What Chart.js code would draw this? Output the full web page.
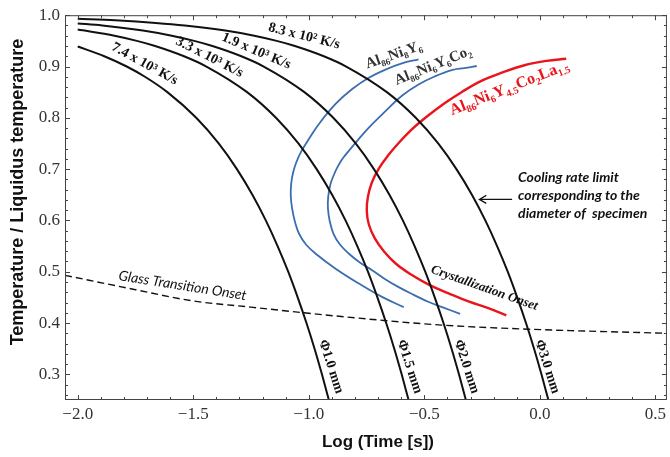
<!DOCTYPE html>
<html><head><meta charset="utf-8">
<script src="https://cdn.jsdelivr.net/npm/chart.js@4.4.0/dist/chart.umd.min.js"></script>
<style>html,body{margin:0;padding:0;background:#fff;}</style>
</head><body>
<canvas id="c" width="670" height="457"></canvas>
<script>
// ---- tick labels ----
const xTicks = [-2.0, -1.5, -1.0, -0.5, 0.0, 0.5];
const yTicks = [0.3, 0.4, 0.5, 0.6, 0.7, 0.8, 0.9, 1.0];

// ---- cooling curves (black) ----
const cr74x = [-2.0, -1.885, -1.788, -1.709, -1.612, -1.487, -1.390, -1.311, -1.244, -1.186, -1.135, -1.089, -1.048, -1.010, -0.975, -0.943, -0.913];
const cr74y = [0.939, 0.92, 0.90, 0.88, 0.85, 0.80, 0.75, 0.70, 0.65, 0.60, 0.55, 0.50, 0.45, 0.40, 0.35, 0.30, 0.25];
const cr33x = [-2.0, -1.841, -1.744, -1.665, -1.540, -1.443, -1.267, -1.142, -1.045, -0.966, -0.899, -0.841, -0.790, -0.744, -0.703, -0.665, -0.630, -0.598, -0.568];
const cr33y = [0.972, 0.96, 0.95, 0.94, 0.92, 0.90, 0.85, 0.80, 0.75, 0.70, 0.65, 0.60, 0.55, 0.50, 0.45, 0.40, 0.35, 0.30, 0.25];
const cr19x = [-2.0, -1.894, -1.718, -1.593, -1.496, -1.417, -1.292, -1.195, -1.019, -0.894, -0.797, -0.718, -0.651, -0.593, -0.542, -0.496, -0.455, -0.417, -0.382, -0.350, -0.320];
const cr19y = [0.984, 0.98, 0.97, 0.96, 0.95, 0.94, 0.92, 0.90, 0.85, 0.80, 0.75, 0.70, 0.65, 0.60, 0.55, 0.50, 0.45, 0.40, 0.35, 0.30, 0.25];
const cr83x = [-2.0, -1.838, -1.662, -1.537, -1.361, -1.236, -1.139, -1.060, -0.935, -0.838, -0.662, -0.537, -0.440, -0.361, -0.294, -0.236, -0.185, -0.139, -0.098, -0.060, -0.025, 0.007, 0.037];
const cr83y = [0.993, 0.99, 0.985, 0.98, 0.97, 0.96, 0.95, 0.94, 0.92, 0.90, 0.85, 0.80, 0.75, 0.70, 0.65, 0.60, 0.55, 0.50, 0.45, 0.40, 0.35, 0.30, 0.25];

// ---- glass transition onset (dashed) ----
const glassX = [-2.055, -1.75, -1.5, -1.25, -1.0, -0.675, -0.425, -0.05, 0.55];
const glassY = [0.493, 0.465, 0.443, 0.431, 0.419, 0.405, 0.396, 0.388, 0.380];

// ---- crystallization onset curves ----
const ni8X = [-0.589, -0.683, -0.783, -0.884, -0.970, -1.012, -1.042, -1.059, -1.072, -1.078, -1.076, -1.068, -1.055, -1.033, -0.999, -0.956, -0.884, -0.812, -0.740, -0.668, -0.597, -0.525];
const ni8Y = [0.431, 0.451, 0.477, 0.506, 0.535, 0.553, 0.574, 0.596, 0.623, 0.648, 0.672, 0.693, 0.712, 0.734, 0.759, 0.788, 0.827, 0.856, 0.878, 0.894, 0.906, 0.914];
const co2X = [-0.345, -0.417, -0.481, -0.546, -0.611, -0.671, -0.726, -0.779, -0.826, -0.865, -0.893, -0.909, -0.917, -0.916, -0.906, -0.891, -0.877, -0.854, -0.826, -0.783, -0.740, -0.668, -0.597, -0.525, -0.453, -0.381, -0.326, -0.273];
const co2Y = [0.418, 0.430, 0.441, 0.455, 0.470, 0.486, 0.503, 0.518, 0.535, 0.553, 0.574, 0.598, 0.623, 0.646, 0.671, 0.689, 0.703, 0.720, 0.736, 0.759, 0.781, 0.813, 0.843, 0.865, 0.881, 0.893, 0.897, 0.901];
const laX = [-0.145, -0.223, -0.309, -0.395, -0.481, -0.559, -0.624, -0.675, -0.714, -0.740, -0.749, -0.744, -0.727, -0.697, -0.658, -0.611, -0.555, -0.490, -0.417, -0.339, -0.253, -0.158, -0.063, 0.028, 0.114];
const laY = [0.415, 0.429, 0.442, 0.458, 0.475, 0.495, 0.516, 0.540, 0.565, 0.592, 0.619, 0.646, 0.674, 0.701, 0.726, 0.751, 0.777, 0.802, 0.827, 0.850, 0.872, 0.889, 0.903, 0.911, 0.915];

const pts = (xs, ys) => xs.map((x, i) => ({x: x, y: ys[i]}));
const BLACK = '#111111', BLUE = '#3b6eaf', RED = '#e8161c';

function lineDs(xs, ys, color, w, extra) {
  return Object.assign({data: pts(xs, ys), showLine: true, borderColor: color, borderWidth: w,
    pointRadius: 0, fill: false, tension: 0.4}, extra || {});
}

const datasets = [
  lineDs(cr74x, cr74y, BLACK, 2, {cubicInterpolationMode: 'monotone'}),
  lineDs(cr33x, cr33y, BLACK, 2, {cubicInterpolationMode: 'monotone'}),
  lineDs(cr19x, cr19y, BLACK, 2, {cubicInterpolationMode: 'monotone'}),
  lineDs(cr83x, cr83y, BLACK, 2, {cubicInterpolationMode: 'monotone'}),
  lineDs(glassX, glassY, BLACK, 1.4, {borderDash: [7, 4], cubicInterpolationMode: 'monotone'}),
  lineDs(ni8X, ni8Y, BLUE, 1.8),
  lineDs(co2X, co2Y, BLUE, 1.8),
  lineDs(laX, laY, RED, 2.4)
];

const fmt = v => (Math.abs(v) < 1e-9 ? '0.0' : v.toFixed(1).replace('-', '\u2212'));

function rich(ctx, segs, cx, cy, ang, size, color, family, style) {
  ctx.save();
  ctx.translate(cx, cy);
  ctx.rotate(ang * Math.PI / 180);
  const f = (sub) => `${style} ${sub ? Math.round(size * 0.62) : size}px ${family}`;
  let w = 0;
  segs.forEach(([t, s]) => { ctx.font = f(s); w += ctx.measureText(t).width; });
  let x = -w / 2;
  ctx.fillStyle = color; ctx.textBaseline = 'middle'; ctx.textAlign = 'left';
  segs.forEach(([t, s]) => { ctx.font = f(s); ctx.fillText(t, x, s ? size * 0.32 : 0); x += ctx.measureText(t).width; });
  ctx.restore();
}
function txt(ctx, t, cx, cy, ang, font, color, align) {
  ctx.save();
  ctx.translate(cx, cy);
  ctx.rotate(ang * Math.PI / 180);
  ctx.font = font; ctx.fillStyle = color; ctx.textAlign = align || 'center'; ctx.textBaseline = 'middle';
  ctx.fillText(t, 0, 0);
  ctx.restore();
}

const deco = {
  id: 'deco',
  afterDraw(chart) {
    const ctx = chart.ctx, a = chart.chartArea, xs = chart.scales.x, ys = chart.scales.y;
    const P = (x, y) => [xs.getPixelForValue(x), ys.getPixelForValue(y)];
    // frame
    ctx.save();
    ctx.strokeStyle = '#444'; ctx.lineWidth = 1;
    ctx.strokeRect(a.left + 0.5, a.top + 0.5, a.right - a.left - 1, a.bottom - a.top - 1);
    // ticks
    ctx.beginPath();
    for (let i = -20; i <= 5; i++) {
      const v = i / 10, px = Math.round(xs.getPixelForValue(v)) + 0.5;
      const L = (i % 5 === 0) ? 5 : 3;
      ctx.moveTo(px, a.bottom); ctx.lineTo(px, a.bottom - L);
      ctx.moveTo(px, a.top); ctx.lineTo(px, a.top + L);
    }
    for (let i = 13; i <= 50; i++) {
      const v = i / 50, py = Math.round(ys.getPixelForValue(v)) + 0.5;
      const L = (i % 5 === 0) ? 5 : 3;
      ctx.moveTo(a.left, py); ctx.lineTo(a.left + L, py);
      ctx.moveTo(a.right, py); ctx.lineTo(a.right - L, py);
    }
    ctx.stroke();
    ctx.restore();

    const serifB = 'Liberation Serif';
    // cooling rate labels
    let p;
    p = P(-1.020, 0.959); rich(ctx, [['8.3 x 10\u00b2 K/s', 0]], p[0], p[1], 14, 14, '#111', serifB, 'bold');
    p = P(-1.227, 0.930); rich(ctx, [['1.9 x 10\u00b3 K/s', 0]], p[0], p[1], 23, 14, '#111', serifB, 'bold');
    p = P(-1.430, 0.918); rich(ctx, [['3.3 x 10\u00b3 K/s', 0]], p[0], p[1], 27, 14, '#111', serifB, 'bold');
    p = P(-1.710, 0.905); rich(ctx, [['7.4 x 10\u00b3 K/s', 0]], p[0], p[1], 29, 14, '#111', serifB, 'bold');
    // alloy labels
    p = P(-0.632, 0.922); rich(ctx, [['Al', 0], ['86', 1], ['Ni', 0], ['8', 1], ['Y', 0], ['6', 1]], p[0], p[1], -19, 15, '#333', serifB, 'bold');
    p = P(-0.462, 0.901); rich(ctx, [['Al', 0], ['86', 1], ['Ni', 0], ['6', 1], ['Y', 0], ['6', 1], ['Co', 0], ['2', 1]], p[0], p[1], -22, 15, '#333', serifB, 'bold');
    p = P(-0.132, 0.858); rich(ctx, [['Al', 0], ['86', 1], ['Ni', 0], ['6', 1], ['Y', 0], ['4.5', 1], ['Co', 0], ['2', 1], ['La', 0], ['1.5', 1]], p[0], p[1], -21.5, 16, RED, serifB, 'bold');
    // phi labels
    [['\u03a61.0 mm', -0.904], ['\u03a61.5 mm', -0.564], ['\u03a62.0 mm', -0.317], ['\u03a63.0 mm', 0.032]].forEach(([t, x]) => {
      const q = P(x, 0.315); txt(ctx, t, q[0], q[1], 72, 'bold 14px Liberation Serif', '#111');
    });
    // crystallization / glass
    p = P(-0.240, 0.468); txt(ctx, 'Crystallization Onset', p[0], p[1], 19.5, 'italic bold 13px Liberation Serif', '#111');
    p = P(-1.546, 0.473); txt(ctx, 'Glass Transition Onset', p[0], p[1], 9, 'italic 14px Lato', '#111');
    // cooling rate limit note
    const nl = ['Cooling rate limit', 'corresponding to the', 'diameter of  specimen'];
    [0.684, 0.649, 0.614].forEach((y, i) => { const q = P(-0.094, y); txt(ctx, nl[i], q[0], q[1], 0, 'italic bold 14px Lato', '#111', 'left'); });
    // arrow
    const a1 = P(-0.120, 0.641), a2 = P(-0.262, 0.641);
    ctx.save(); ctx.strokeStyle = '#111'; ctx.lineWidth = 1.2;
    ctx.beginPath(); ctx.moveTo(a1[0], a1[1]); ctx.lineTo(a2[0], a2[1]);
    ctx.moveTo(a2[0] + 7, a2[1] - 4); ctx.lineTo(a2[0], a2[1]); ctx.lineTo(a2[0] + 7, a2[1] + 4);
    ctx.stroke(); ctx.restore();
    // axis titles
    txt(ctx, 'Log (Time [s])', 378, 442, 0, 'bold 17px Liberation Sans', '#111');
    txt(ctx, 'Temperature / Liquidus temperature', 18, 192, -90, 'bold 18px Liberation Sans', '#111');
  }
};

new Chart(document.getElementById('c').getContext('2d'), {
  type: 'scatter',
  data: {datasets: datasets},
  options: {
    responsive: false, animation: false, devicePixelRatio: 1,
    layout: {padding: {left: 0, right: 0, top: 14, bottom: 0}},
    plugins: {legend: {display: false}, tooltip: {enabled: false}},
    scales: {
      x: {
        type: 'linear', min: -2.055, max: 0.55,
        afterFit(s) { s.height = 57; },
        afterBuildTicks(s) { s.ticks = xTicks.map(v => ({value: v})); },
        grid: {display: false, drawTicks: false}, border: {display: false},
        ticks: {padding: 4, autoSkip: false, maxRotation: 0, color: '#333', font: {family: 'Liberation Serif', size: 17}, callback: v => fmt(v)}
      },
      y: {
        type: 'linear', min: 0.25, max: 1.0,
        afterFit(s) { s.width = 65; },
        afterBuildTicks(s) { s.ticks = yTicks.map(v => ({value: v})); },
        grid: {display: false, drawTicks: false}, border: {display: false},
        ticks: {padding: 5, color: '#333', font: {family: 'Liberation Serif', size: 17}, callback: v => fmt(v)}
      }
    }
  },
  plugins: [deco]
});
</script>
</body></html>
